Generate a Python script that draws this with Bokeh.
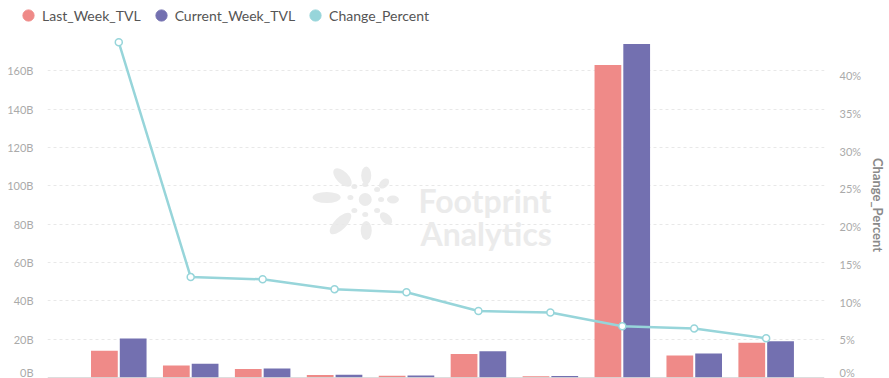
from bokeh.plotting import figure
from bokeh.layouts import column
from bokeh.models import (ColumnDataSource, Range1d, LinearAxis, Span, Legend,
                          LegendItem, Label, FixedTicker, NumeralTickFormatter)
from bokeh.transform import dodge
from bokeh.embed import file_html
from bokeh.resources import INLINE
import math

# ---------------- data ----------------
category_index = [0, 1, 2, 3, 4, 5, 6, 7, 8, 9]
last_week_tvl = [13.9, 6.3, 4.4, 1.3, 0.9, 12.3, 0.7, 163.0, 11.5, 18.1]      # billions
current_week_tvl = [20.4, 7.2, 4.7, 1.45, 1.0, 13.7, 0.8, 174.0, 12.5, 18.9]  # billions
change_percent = [0.444, 0.133, 0.130, 0.117, 0.113, 0.088, 0.086, 0.068, 0.065, 0.052]

left_ticks = [0, 20, 40, 60, 80, 100, 120, 140, 160]
left_tick_labels = ["0B", "20B", "40B", "60B", "80B", "100B", "120B", "140B", "160B"]
right_ticks = [0, 0.05, 0.10, 0.15, 0.20, 0.25, 0.30, 0.35, 0.40]

series_names = ["Last_Week_TVL", "Current_Week_TVL", "Change_Percent"]
colors = ["#ef8a88", "#7370b0", "#97d5da"]

src = ColumnDataSource(dict(x=category_index, last=last_week_tvl,
                            cur=current_week_tvl, pct=change_percent))

# ---------------- legend strip ----------------
lg = figure(width=889, height=32, output_backend="svg", toolbar_location=None,
            x_range=Range1d(0, 1), y_range=Range1d(0, 1),
            x_axis_location=None, y_axis_location=None,
            min_border_left=0, min_border_right=0, min_border_top=0, min_border_bottom=0)
lg.frame_align = False
lg.outline_line_color = None
lg.xgrid.visible = False
lg.ygrid.visible = False
# legend-only renderers: their single point lies outside the strip's ranges
dummies = []
for c in colors:
    dummies.append(lg.scatter(x=[5], y=[5], marker="circle", fill_color=c, line_color=c, size=10))
legend = Legend(items=[LegendItem(label=n, renderers=[r], index=0) for n, r in zip(series_names, dummies)],
                location=(14, 3), orientation="horizontal",
                glyph_width=28, glyph_height=28, label_standoff=0, spacing=6,
                padding=0, margin=0, background_fill_alpha=0, border_line_color=None,
                label_text_font="Lato", label_text_font_size="14px", label_text_color="#555555")
lg.add_layout(legend)

# ---------------- main chart ----------------
p = figure(width=889, height=346, output_backend="svg", toolbar_location=None,
           x_range=Range1d(-0.991, 9.811), y_range=Range1d(0, 180),
           x_axis_location=None,
           min_border_left=47, min_border_right=57, min_border_top=0, min_border_bottom=1)
p.frame_align = False
p.outline_line_color = None
p.xgrid.visible = False

yax = p.yaxis[0]
yax.ticker = FixedTicker(ticks=left_ticks)
yax.major_label_overrides = {t: l for t, l in zip(left_ticks, left_tick_labels)}
yax.axis_line_color = None
yax.major_tick_line_color = None
yax.minor_tick_line_color = None
yax.major_label_standoff = 8
yax.major_label_text_font = "Lato"
yax.major_label_text_font_size = "11px"
yax.major_label_text_color = "#aaaaaa"

p.ygrid.grid_line_color = "#e8e8e8"
p.ygrid.grid_line_dash = "3 3"
p.ygrid.grid_line_width = 1

p.extra_y_ranges = {"pct": Range1d(0, 0.457)}
rax = LinearAxis(y_range_name="pct", ticker=FixedTicker(ticks=right_ticks),
                 formatter=NumeralTickFormatter(format="0%"), axis_label="Change_Percent")
rax.axis_line_color = None
rax.major_tick_line_color = None
rax.minor_tick_line_color = None
rax.major_label_standoff = 9
rax.major_label_text_font = "Lato"
rax.major_label_text_font_size = "11px"
rax.major_label_text_color = "#aaaaaa"
rax.axis_label_text_font = "Lato"
rax.axis_label_text_font_size = "13px"
rax.axis_label_text_font_style = "bold"
rax.axis_label_text_color = "#8a8a8a"
rax.axis_label_standoff = 6
p.add_layout(rax, "right")

# ---------------- watermark (decoration, page-pixel layout) ----------------
WM = "#ebebeb"
def px_x(sx):
    return -0.991 + (sx - 47) / 72.67
def px_y(sy):
    return (377 - sy) * 180.0 / 345.0
petals = [  # (page x, page y, length, thickness, angle deg)
    (329, 197, 28, 11, 0), (345, 177, 23, 12, -45), (369, 175, 18, 10, 90),
    (387, 183, 12, 8, 45), (396, 199, 12, 8, 0), (389, 218, 15, 9, -45),
    (369, 230, 19, 11, 90), (343, 223, 28, 12, 45),
    (353, 197, 6, 5, 0), (357, 186, 6, 5, 0), (368, 184, 6, 5, 0), (380, 189, 6, 5, 0),
    (384, 199, 6, 5, 0), (380, 210, 6, 5, 0), (368, 214, 6, 5, 0), (357, 210, 6, 5, 0),
    (368, 199, 13, 13, 0),
]
p.ellipse(x=[px_x(a[0]) for a in petals], y=[px_y(a[1]) for a in petals],
          width=[a[2] for a in petals], height=[a[3] for a in petals],
          angle=[math.radians(a[4]) for a in petals],
          width_units="screen", height_units="screen",
          fill_color=WM, line_color=None, level="underlay")
p.add_layout(Label(x=371, y=177, x_units="screen", y_units="screen", text="Footprint",
                   text_font="Lato", text_font_style="bold", text_font_size="32px",
                   text_color=WM, text_baseline="alphabetic", level="underlay"))
p.add_layout(Label(x=373, y=144, x_units="screen", y_units="screen", text="Analytics",
                   text_font="Lato", text_font_style="bold", text_font_size="32px",
                   text_color=WM, text_baseline="alphabetic", level="underlay"))

# ---------------- series ----------------
p.vbar(x=dodge("x", -0.2, range=p.x_range), top="last", width=0.372, source=src,
       fill_color=colors[0], line_color=None)
p.vbar(x=dodge("x", 0.2, range=p.x_range), top="cur", width=0.372, source=src,
       fill_color=colors[1], line_color=None)

p.add_layout(Span(location=0, dimension="width", line_color="#bbbbbb", line_width=1))

p.line("x", "pct", source=src, y_range_name="pct", line_color=colors[2], line_width=2.5)
p.scatter("x", "pct", source=src, y_range_name="pct", size=7, fill_color="white",
          line_color=colors[2], line_width=1.5)

layout = column(lg, p, spacing=0)
open("out.html", "w").write(file_html(layout, INLINE))
